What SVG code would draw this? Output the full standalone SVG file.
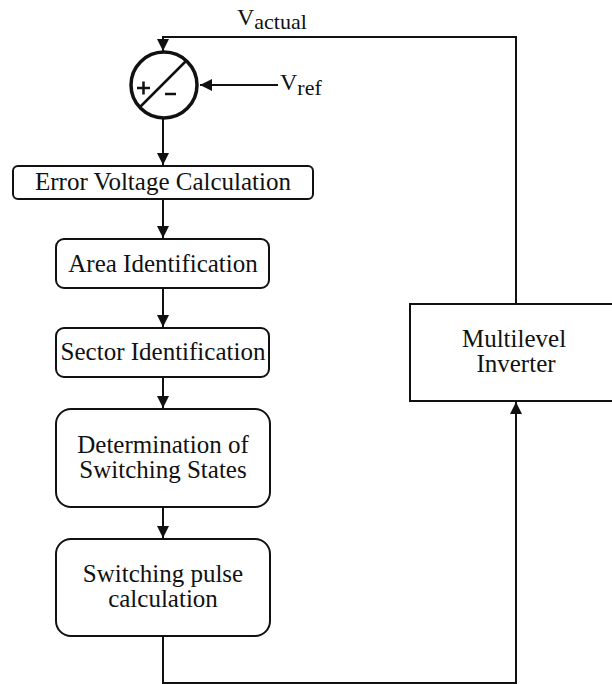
<svg xmlns="http://www.w3.org/2000/svg" width="612" height="684" viewBox="0 0 612 684">
<defs>
<style>
.box{fill:#fff;stroke:#111;stroke-width:2}
.t{font-family:'Liberation Serif','Times New Roman',serif;font-size:25px;fill:#111;text-anchor:middle}
.lbl{font-family:'Liberation Serif','Times New Roman',serif;font-size:24px;fill:#111}
.sub{font-size:22px}
.ln{fill:none;stroke:#111;stroke-width:2}
</style>
<marker id="ah" viewBox="0 0 12 12" refX="12" refY="6" markerWidth="12" markerHeight="12" markerUnits="userSpaceOnUse" orient="auto">
<path d="M0,0 L12,6 L0,12 Z" fill="#111"/>
</marker>
</defs>
<rect width="612" height="684" fill="#fff"/>
<g id="connectors">
<polyline class="ln" points="516,304 516,37 163,37 163,51" marker-end="url(#ah)"/>
<line class="ln" x1="278" y1="85" x2="200" y2="85" marker-end="url(#ah)"/>
<line class="ln" x1="163" y1="119" x2="163" y2="165" marker-end="url(#ah)"/>
<line class="ln" x1="163" y1="199" x2="163" y2="238" marker-end="url(#ah)"/>
<line class="ln" x1="163" y1="288" x2="163" y2="327" marker-end="url(#ah)"/>
<line class="ln" x1="163" y1="377" x2="163" y2="408" marker-end="url(#ah)"/>
<line class="ln" x1="163" y1="507" x2="163" y2="538" marker-end="url(#ah)"/>
<polyline class="ln" points="163,636 163,683 516,683 516,402" marker-end="url(#ah)"/>
</g>
<g id="vactual-label"><text class="lbl" x="237" y="25">V<tspan class="sub" dy="4">actual</tspan></text></g>
<g id="vref-label"><text class="lbl" x="280" y="90">V<tspan class="sub" dy="5">ref</tspan></text></g>
<g id="summer">
<circle cx="164" cy="85" r="33" fill="#fff" stroke="#111" stroke-width="3.5"/>
<line x1="140" y1="107" x2="187" y2="60" stroke="#111" stroke-width="2.5"/>
<path d="M137,88 H150 M143.5,81.5 V94.5" stroke="#111" stroke-width="2.5"/>
<path d="M165,94 H176" stroke="#111" stroke-width="2.5"/>
</g>
<g id="error">
<rect class="box" x="13" y="166" width="300" height="33" rx="5"/>
<text class="t" x="163" y="190">Error Voltage Calculation</text>
</g>
<g id="area">
<rect class="box" x="56" y="239" width="213" height="49" rx="8"/>
<text class="t" x="163" y="272">Area Identification</text>
</g>
<g id="sector">
<rect class="box" x="56" y="328" width="213" height="49" rx="8"/>
<text class="t" x="163" y="360">Sector Identification</text>
</g>
<g id="determination">
<rect class="box" x="56" y="409" width="214" height="98" rx="15"/>
<text class="t" x="163" y="453">Determination of</text>
<text class="t" x="163" y="478">Switching States</text>
</g>
<g id="pulse">
<rect class="box" x="56" y="539" width="214" height="97" rx="15"/>
<text class="t" x="163" y="582">Switching pulse</text>
<text class="t" x="163" y="607">calculation</text>
</g>
<g id="inverter">
<rect class="box" x="410" y="304" width="230" height="97"/>
<text class="t" x="514" y="347">Multilevel</text>
<text class="t" x="516" y="372">Inverter</text>
</g>
</svg>
